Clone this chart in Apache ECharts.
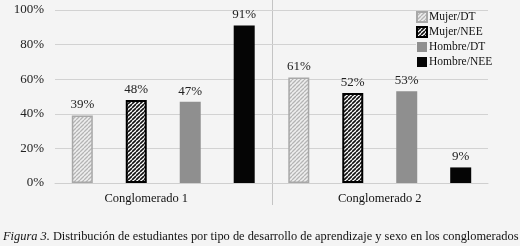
<!DOCTYPE html>
<html>
<head>
<meta charset="utf-8">
<script src="https://cdn.jsdelivr.net/npm/echarts@6/dist/echarts.min.js"></script>
<style>
  html, body { margin: 0; padding: 0; background: #f4f4f4; }
  #chart { width: 520px; height: 246px; }
</style>
</head>
<body>
<div id="chart"></div>
<script>
  const categories = ['Conglomerado 1', 'Conglomerado 2'];
  const seriesNames = ['Mujer/DT', 'Mujer/NEE', 'Hombre/DT', 'Hombre/NEE'];
  const mujerDT = [39, 61];
  const mujerNEE = [48, 52];
  const hombreDT = [47, 53];
  const hombreNEE = [91, 9];
  const yTicks = [0, 20, 40, 60, 80, 100];

  const serif = '"Liberation Serif", "DejaVu Serif", serif';

  // diagonal hatch pattern
  const hatch = (bg, fg, step, lw) => {
    const c = document.createElement('canvas');
    c.width = step; c.height = step;
    const ctx = c.getContext('2d');
    ctx.fillStyle = bg;
    ctx.fillRect(0, 0, step, step);
    ctx.strokeStyle = fg;
    ctx.lineWidth = lw;
    ctx.beginPath();
    for (let k = -1; k <= 1; k++) {
      ctx.moveTo(k * step, step);
      ctx.lineTo(k * step + step, 0);
    }
    ctx.stroke();
    return { image: c, repeat: 'repeat' };
  };

  const styles = [
    { color: hatch('#eeeeee', '#b4b4b4', 4, 1.3), borderColor: '#a8a8a8', borderWidth: 1.5 },
    { color: hatch('#ffffff', '#111111', 4, 1.6), borderColor: '#000000', borderWidth: 2 },
    { color: '#8f8f8f' },
    { color: '#050505' }
  ];
  const values = [mujerDT, mujerNEE, hombreDT, hombreNEE];

  const chart = echarts.init(document.getElementById('chart'));
  const option = {
    backgroundColor: '#f4f4f4',
    animation: false,
    textStyle: { fontFamily: serif },
    title: {
      text: '{i|Figura 3.} Distribución de estudiantes por tipo de desarrollo de aprendizaje y sexo en los conglomerados',
      left: -2,
      top: 226,
      textStyle: {
        fontFamily: serif,
        fontSize: 12.4,
        fontWeight: 'normal',
        color: '#111',
        rich: {
          i: { fontFamily: serif, fontSize: 12.4, fontStyle: 'italic', color: '#111' }
        }
      }
    },
    legend: {
      data: seriesNames.map(n => ({ name: n, icon: 'rect' })),
      orient: 'vertical',
      left: 416,
      top: 11,
      itemWidth: 10,
      itemHeight: 10,
      itemGap: 3,
      backgroundColor: '#f4f4f4',
      padding: [0, 2, 0, 0],
      textStyle: { fontFamily: serif, fontSize: 11.5, color: '#111', padding: [0, 0, 0, -3] }
    },
    grid: { left: 55, right: 32, top: 10, bottom: 63 },
    xAxis: {
      type: 'category',
      data: categories,
      axisLine: { lineStyle: { color: '#cfcfcf' } },
      axisTick: { show: false },
      axisLabel: {
        fontFamily: serif,
        fontSize: 12.5,
        color: '#111',
        margin: 9,
        formatter: (v, i) => i === 0 ? '{a|' + v + '}' : v,
        rich: { a: { fontFamily: serif, fontSize: 12.5, color: '#111', padding: [0, 34, 0, 0] } }
      }
    },
    yAxis: {
      type: 'value',
      min: yTicks[0],
      max: yTicks[yTicks.length - 1],
      interval: 20,
      axisLine: { show: false },
      axisTick: { show: false },
      axisLabel: { fontFamily: serif, fontSize: 13, color: '#222', margin: 11, formatter: '{value}%' },
      splitLine: { lineStyle: { color: '#d2d2d2' } }
    },
    graphic: [
      { type: 'line', shape: { x1: 272.5, y1: 0, x2: 272.5, y2: 205 }, style: { stroke: '#c4c4c4', lineWidth: 1 } }
    ],
    series: seriesNames.map((name, i) => ({
      name: name,
      type: 'bar',
      data: values[i],
      barWidth: 21,
      barGap: '157%',
      itemStyle: styles[i],
      label: {
        show: true,
        position: 'top',
        distance: 4,
        formatter: '{c}%',
        fontFamily: serif,
        fontSize: 13,
        color: '#222'
      }
    }))
  };
  chart.setOption(option);
</script>
</body>
</html>
